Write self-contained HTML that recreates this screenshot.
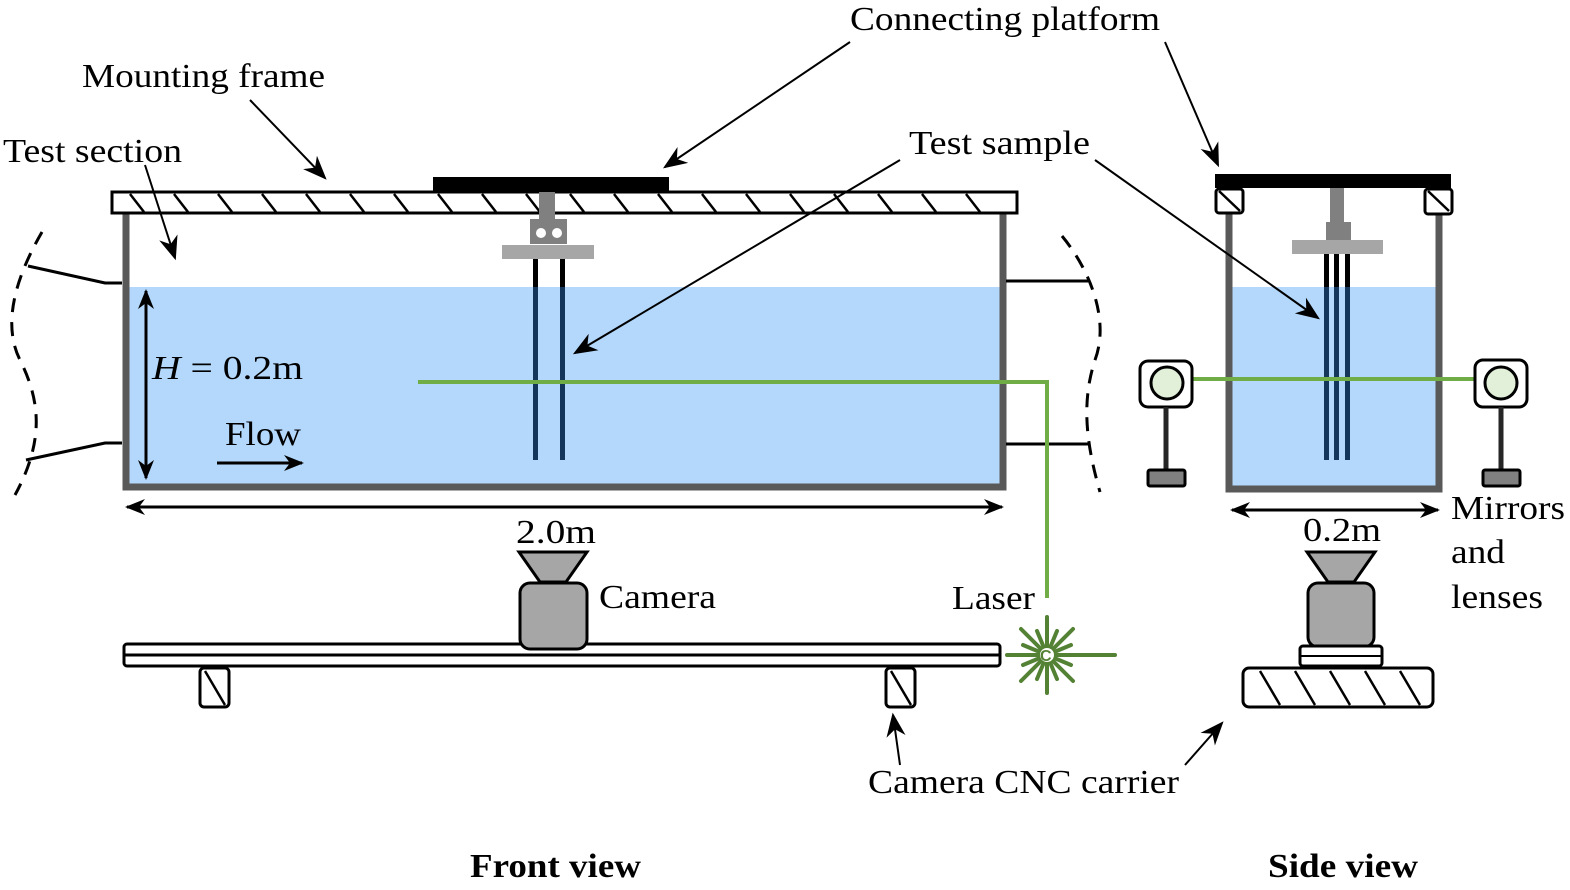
<!DOCTYPE html>
<html><head><meta charset="utf-8"><style>body{margin:0;background:#fff}svg{display:block}text{font-family:"Liberation Serif",serif;font-size:34px;fill:#000}</style></head><body>
<svg width="1570" height="890" viewBox="0 0 1570 890" xmlns="http://www.w3.org/2000/svg">
<defs>
<marker id="b" viewBox="0 0 10 10" refX="9" refY="5" markerWidth="20" markerHeight="20" markerUnits="userSpaceOnUse" orient="auto-start-reverse"><path d="M0,1 L10,5 L0,9 L3,5z" fill="#000"/></marker>
<marker id="c" viewBox="0 0 10 10" refX="9" refY="5" markerWidth="24" markerHeight="24" markerUnits="userSpaceOnUse" orient="auto"><path d="M0,1 L10,5 L0,9 L3,5z" fill="#000"/></marker>
</defs>
<rect x="129" y="287" width="871" height="197" fill="#b4d8fb"/>
<path d="M126,213 V487 H1003 V213" fill="none" stroke="#595959" stroke-width="7"/>
<rect x="112" y="192" width="905" height="21" fill="#fff" stroke="#000" stroke-width="3"/>
<g stroke="#000" stroke-width="2.5">
<path d="M130,194 l14,18 M174,194 l14,18 M218,194 l14,18 M262,194 l14,18 M306,194 l14,18 M350,194 l14,18 M394,194 l14,18 M438,194 l14,18 M482,194 l14,18 M526,194 l14,18 M570,194 l14,18 M614,194 l14,18 M658,194 l14,18 M702,194 l14,18 M746,194 l14,18 M790,194 l14,18 M834,194 l14,18 M878,194 l14,18 M922,194 l14,18 M966,194 l14,18"/></g>
<rect x="433" y="177" width="236" height="15" fill="#000"/>
<rect x="539" y="192" width="16" height="28" fill="#808080"/>
<rect x="530" y="219" width="37" height="25" fill="#808080"/>
<circle cx="541" cy="233" r="5" fill="#fff"/><circle cx="557" cy="233" r="5" fill="#fff"/>
<rect x="502" y="245" width="92" height="14" fill="#a6a6a6"/>
<rect x="533" y="259" width="5" height="28" fill="#000"/><rect x="560" y="259" width="5" height="28" fill="#000"/>
<rect x="533" y="287" width="5" height="173" fill="#14365a"/><rect x="560" y="287" width="5" height="173" fill="#14365a"/>
<g fill="none" stroke="#000" stroke-width="3">
<path d="M122,283 H105 L28,266 M122,443 H105 L26,460 M1006,281 H1088 M1006,444 H1088"/>
<path d="M42,232 C20,270 0,320 20,360 C40,400 45,440 15,495" stroke-dasharray="14,10"/>
<path d="M1062,236 C1090,270 1110,320 1095,360 C1082,400 1085,440 1100,492" stroke-dasharray="14,10"/>
</g>
<line x1="146" y1="291" x2="146" y2="478" stroke="#000" stroke-width="3" marker-start="url(#b)" marker-end="url(#b)"/>
<line x1="217" y1="463" x2="302" y2="463" stroke="#000" stroke-width="3" marker-end="url(#b)"/>
<line x1="127" y1="507" x2="1002" y2="507" stroke="#000" stroke-width="3" marker-start="url(#b)" marker-end="url(#b)"/>
<path d="M418,382 H1047 V598" fill="none" stroke="#70ad47" stroke-width="4"/>
<g stroke="#548235" stroke-width="4" stroke-linecap="round">
<line x1="1007" y1="655" x2="1115" y2="655"/><line x1="1047" y1="617" x2="1047" y2="693"/>
<line x1="1021" y1="629" x2="1073" y2="681"/><line x1="1021" y1="681" x2="1073" y2="629"/>
<line x1="1037" y1="631" x2="1057" y2="679"/><line x1="1057" y1="631" x2="1037" y2="679"/>
<line x1="1023" y1="645" x2="1071" y2="665"/><line x1="1023" y1="665" x2="1071" y2="645"/>
</g>
<circle cx="1047" cy="655" r="7" fill="#fff"/>
<text x="1040" y="661" style="font-size:16px;fill:#548235;font-family:'Liberation Sans',sans-serif;font-weight:bold">C</text>
<rect x="124" y="644" width="876" height="22" rx="3" fill="#fff" stroke="#000" stroke-width="3"/>
<line x1="124" y1="655" x2="1000" y2="655" stroke="#000" stroke-width="3"/>
<rect x="200" y="668" width="29" height="39" rx="4" fill="#fff" stroke="#000" stroke-width="3"/><line x1="205" y1="671" x2="225" y2="705" stroke="#000" stroke-width="2.5"/>
<rect x="886" y="668" width="29" height="39" rx="4" fill="#fff" stroke="#000" stroke-width="3"/><line x1="891" y1="671" x2="911" y2="705" stroke="#000" stroke-width="2.5"/>
<path d="M519,552 H587 L566,582 H540Z" fill="#a6a6a6" stroke="#000" stroke-width="3"/>
<rect x="520" y="583" width="67" height="66" rx="10" fill="#a6a6a6" stroke="#000" stroke-width="3"/>
<rect x="1232" y="287" width="204" height="199" fill="#b4d8fb"/>
<path d="M1229,210 V489 H1439 V210" fill="none" stroke="#595959" stroke-width="7"/>
<rect x="1215" y="174" width="236" height="14" fill="#000"/>
<rect x="1216" y="189" width="27" height="24" rx="3" fill="#fff" stroke="#000" stroke-width="3"/><line x1="1219" y1="191" x2="1240" y2="211" stroke="#000" stroke-width="2.5"/>
<rect x="1425" y="189" width="27" height="25" rx="3" fill="#fff" stroke="#000" stroke-width="3"/><line x1="1428" y1="191" x2="1449" y2="211" stroke="#000" stroke-width="2.5"/>
<rect x="1330" y="188" width="14" height="35" fill="#808080"/>
<rect x="1326" y="222" width="25" height="20" fill="#808080"/>
<rect x="1292" y="240" width="91" height="14" fill="#a6a6a6"/>
<g fill="#000"><rect x="1324" y="254" width="5" height="33"/><rect x="1334" y="254" width="5" height="33"/><rect x="1345" y="254" width="5" height="33"/></g>
<g fill="#14365a"><rect x="1324" y="287" width="5" height="173"/><rect x="1334" y="287" width="5" height="173"/><rect x="1345" y="287" width="5" height="173"/></g>
<line x1="1192" y1="379" x2="1474" y2="379" stroke="#70ad47" stroke-width="4"/>
<rect x="1140" y="361" width="52" height="46" rx="8" fill="#fff" stroke="#000" stroke-width="3"/>
<circle cx="1167" cy="383" r="16" fill="#e2f0d9" stroke="#000" stroke-width="3"/>
<line x1="1166" y1="407" x2="1166" y2="472" stroke="#262626" stroke-width="5"/>
<rect x="1148" y="470" width="37" height="16" rx="2" fill="#808080" stroke="#000" stroke-width="3"/>
<rect x="1475" y="360" width="52" height="47" rx="8" fill="#fff" stroke="#000" stroke-width="3"/>
<circle cx="1501" cy="383" r="16" fill="#e2f0d9" stroke="#000" stroke-width="3"/>
<line x1="1501" y1="407" x2="1501" y2="472" stroke="#262626" stroke-width="5"/>
<rect x="1483" y="470" width="37" height="16" rx="2" fill="#808080" stroke="#000" stroke-width="3"/>
<line x1="1232" y1="510" x2="1438" y2="510" stroke="#000" stroke-width="3" marker-start="url(#b)" marker-end="url(#b)"/>
<path d="M1307,552 H1375 L1354,582 H1328Z" fill="#a6a6a6" stroke="#000" stroke-width="3"/>
<rect x="1308" y="583" width="66" height="64" rx="10" fill="#a6a6a6" stroke="#000" stroke-width="3"/>
<rect x="1300" y="646" width="82" height="20" rx="3" fill="#fff" stroke="#000" stroke-width="3"/>
<line x1="1300" y1="656" x2="1382" y2="656" stroke="#000" stroke-width="2"/>
<rect x="1243" y="668" width="190" height="39" rx="6" fill="#fff" stroke="#000" stroke-width="3"/>
<path d="M1260,671 l20,34 M1295,671 l20,34 M1330,671 l20,34 M1365,671 l20,34 M1400,671 l20,34" stroke="#000" stroke-width="2.5"/>
<g stroke="#000" stroke-width="2" marker-end="url(#c)">
<line x1="850" y1="42" x2="665" y2="167"/>
<line x1="250" y1="100" x2="325" y2="178"/>
<line x1="145" y1="165" x2="175" y2="258"/>
<line x1="900" y1="160" x2="575" y2="353"/>
<line x1="1095" y1="160" x2="1318" y2="318"/>
<line x1="1165" y1="42" x2="1218" y2="165"/>
<line x1="900" y1="765" x2="893" y2="715"/>
<line x1="1185" y1="765" x2="1222" y2="723"/>
</g>
<g lengthAdjust="spacingAndGlyphs">
<text x="850" y="30" textLength="310" lengthAdjust="spacingAndGlyphs">Connecting platform</text>
<text x="82" y="87" textLength="243" lengthAdjust="spacingAndGlyphs">Mounting frame</text>
<text x="3" y="162" textLength="179" lengthAdjust="spacingAndGlyphs">Test section</text>
<text x="909" y="154" textLength="181" lengthAdjust="spacingAndGlyphs">Test sample</text>
<text x="152" y="379" textLength="151" lengthAdjust="spacingAndGlyphs"><tspan font-style="italic">H</tspan> = 0.2m</text>
<text x="225" y="445" textLength="76" lengthAdjust="spacingAndGlyphs">Flow</text>
<text x="516" y="543" textLength="80" lengthAdjust="spacingAndGlyphs">2.0m</text>
<text x="599" y="608" textLength="117" lengthAdjust="spacingAndGlyphs">Camera</text>
<text x="952" y="609" textLength="83" lengthAdjust="spacingAndGlyphs">Laser</text>
<text x="1303" y="541" textLength="78" lengthAdjust="spacingAndGlyphs">0.2m</text>
<text x="1451" y="519" textLength="114" lengthAdjust="spacingAndGlyphs">Mirrors</text>
<text x="1451" y="563" textLength="54" lengthAdjust="spacingAndGlyphs">and</text>
<text x="1451" y="608" textLength="92" lengthAdjust="spacingAndGlyphs">lenses</text>
<text x="868" y="793" textLength="311" lengthAdjust="spacingAndGlyphs">Camera CNC carrier</text>
<text x="470" y="877" textLength="171" lengthAdjust="spacingAndGlyphs" font-weight="bold">Front view</text>
<text x="1268" y="877" textLength="150" lengthAdjust="spacingAndGlyphs" font-weight="bold">Side view</text>
</g>
</svg>
</body></html>
